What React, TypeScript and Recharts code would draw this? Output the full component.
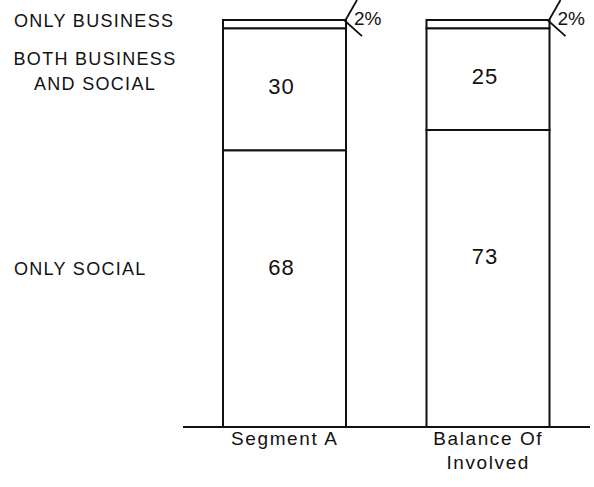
import React from "react";
import { BarChart, Bar, XAxis, YAxis, LabelList } from "recharts";

const categories = ["Segment A", "Balance Of Involved"];
const categoryLines = [["Segment A"], ["Balance Of", "Involved"]];
const onlySocial = [68, 73];
const bothBusinessSocial = [30, 25];
const onlyBusiness = [2, 2];
const rowLabels = [["ONLY BUSINESS"], ["BOTH BUSINESS", "AND SOCIAL"], ["ONLY SOCIAL"]];
const rowLabelAnchors = [100, 87.5, 39];

const data = categories.map((c, i) => ({
  name: c,
  lines: categoryLines[i],
  social: onlySocial[i],
  both: bothBusinessSocial[i],
  business: onlyBusiness[i],
}));

const FONT = "'Liberation Sans', Arial, Helvetica, sans-serif";
const INK = "#111";

const YTick = (props: any) => {
  const { y, payload } = props;
  const idx = rowLabelAnchors.indexOf(payload.value);
  const lines = idx >= 0 ? rowLabels[idx] : [];
  if (lines.length === 1) {
    return (
      <text x={14} y={y + 6.5} fontFamily={FONT} fontSize={18} letterSpacing={1.3} fill={INK} textAnchor="start">
        {lines[0]}
      </text>
    );
  }
  return (
    <g>
      {lines.map((l, i) => (
        <text key={i} x={95} y={y - 6.25 + i * 25.5} fontFamily={FONT} fontSize={18} letterSpacing={1.3} fill={INK} textAnchor="middle">
          {l}
        </text>
      ))}
    </g>
  );
};

const XTick = (props: any) => {
  const { x, y, index } = props;
  const lines = categoryLines[index] || [];
  return (
    <g>
      {lines.map((l, i) => (
        <text key={i} x={x} y={y + 10 + i * 24} fontFamily={FONT} fontSize={19} letterSpacing={1.6} fill={INK} textAnchor="middle">
          {l}
        </text>
      ))}
    </g>
  );
};

const valueLabel = (dy: number) => (props: any) => {
  const { x, y, width, height, value } = props;
  return (
    <text
      x={x + width / 2 - 3}
      y={y + height / 2 + dy + 8}
      fontFamily={FONT}
      fontSize={22}
      letterSpacing={1}
      fill={INK}
      textAnchor="middle"
    >
      {value}
    </text>
  );
};

const pctLabel = (props: any) => {
  const { x, y, width, height, value } = props;
  const cx = x + width;
  return (
    <g>
      <line x1={cx - 1} y1={y + 1} x2={cx + 11} y2={y - 20} stroke={INK} strokeWidth={1.8} />
      <line x1={cx - 2} y1={y} x2={cx + 16} y2={y + height + 8} stroke={INK} strokeWidth={1.8} />
      <text x={cx + 8} y={y + 5} fontFamily={FONT} fontSize={19} fill={INK} textAnchor="start">
        {value}%
      </text>
    </g>
  );
};

export default function App() {
  return (
    <div style={{ position: "absolute", left: 0, top: 0, width: 594, height: 487, background: "#fff" }}>
      <BarChart width={594} height={487} data={data} margin={{ top: 20, right: 4, bottom: 30, left: 0 }}>
        <YAxis
          type="number"
          domain={[0, 100]}
          ticks={rowLabelAnchors}
          width={183}
          axisLine={false}
          tickLine={false}
          tick={<YTick />}
          interval={0}
        />
        <XAxis
          dataKey="name"
          height={30}
          axisLine={{ stroke: INK, strokeWidth: 2 }}
          tickLine={false}
          tick={<XTick />}
          interval={0}
        />
        <Bar dataKey="social" stackId="a" barSize={123} fill="#fff" stroke={INK} strokeWidth={2} isAnimationActive={false}>
          <LabelList dataKey="social" content={valueLabel(-22)} />
        </Bar>
        <Bar dataKey="both" stackId="a" barSize={123} fill="#fff" stroke={INK} strokeWidth={2} isAnimationActive={false}>
          <LabelList dataKey="both" content={valueLabel(-3)} />
        </Bar>
        <Bar dataKey="business" stackId="a" barSize={123} fill="#fff" stroke={INK} strokeWidth={2} isAnimationActive={false}>
          <LabelList dataKey="business" content={pctLabel} />
        </Bar>
      </BarChart>
    </div>
  );
}
